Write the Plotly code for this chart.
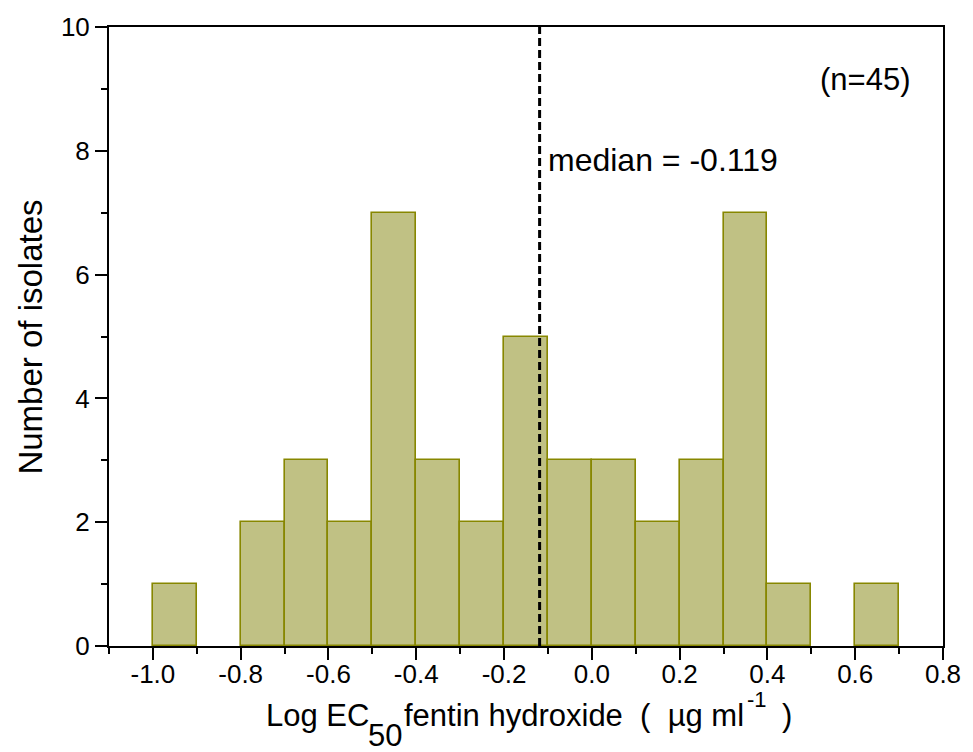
import plotly.graph_objects as go

# Histogram of log EC50 values, bins of width 0.1
bin_left = [-1.0, -0.9, -0.8, -0.7, -0.6, -0.5, -0.4, -0.3, -0.2, -0.1,
            0.0, 0.1, 0.2, 0.3, 0.4, 0.5, 0.6]
counts = [1, 0, 2, 3, 2, 7, 3, 2, 5, 3, 3, 2, 3, 7, 1, 0, 1]
bin_width = 0.1

median_value = -0.119
n_isolates = 45

x_ticks = [-1.0, -0.8, -0.6, -0.4, -0.2, 0.0, 0.2, 0.4, 0.6, 0.8]
y_ticks = [0, 2, 4, 6, 8, 10]

FONT = "Liberation Sans, Arial, sans-serif"
W, H = 973, 752
L, R, T, B = 109, 24, 27, 106

# empty bins are left undrawn so no outline shows along the baseline
filled = [(b + bin_width / 2, c) for b, c in zip(bin_left, counts) if c > 0]
centers = [f[0] for f in filled]
heights = [f[1] for f in filled]

fig = go.Figure()
fig.add_trace(go.Bar(
    x=centers, y=heights, width=bin_width,
    marker=dict(color="#C0C184", line=dict(color="#878700", width=1.6)),
    hoverinfo="x+y", showlegend=False,
))

# median reference line
fig.add_shape(type="line", x0=median_value, x1=median_value, y0=0, y1=10,
              xref="x", yref="y",
              line=dict(color="black", width=3, dash="8px,4px"))

fig.add_annotation(x=median_value, y=7.85, xref="x", yref="y",
                   text=f"median = {median_value:.3f}", showarrow=False,
                   xanchor="left", xshift=6, yanchor="middle",
                   font=dict(family=FONT, size=32, color="black"))
fig.add_annotation(x=0.73, y=9.16, xref="x", yref="y",
                   text=f"(n={n_isolates})", showarrow=False,
                   xanchor="right", yanchor="middle",
                   font=dict(family=FONT, size=31, color="black"))

pw = W - L - R
ph = H - T - B


def px(xpix):
    return (xpix - L) / pw


def py(ypix):
    return (H - B - ypix) / ph


# y axis title
fig.add_annotation(x=px(29), y=py(337), xref="paper", yref="paper",
                   text="Number of isolates", showarrow=False, textangle=-90,
                   xanchor="center", yanchor="middle",
                   font=dict(family=FONT, size=33, color="black"))

# x axis title, built from pieces so the subscript and superscript sit right
title_size = 31
pieces = [
    ("Log EC", 266, 715, title_size),
    ("50", 369, 735, title_size),
    ("fentin hydroxide  (  µg ml", 405, 715, title_size),
    ("-1", 751, 699, 22),
    (")", 786, 715, title_size),
]
for txt, xp_, yp_, sz in pieces:
    fig.add_annotation(x=px(xp_), y=py(yp_), xref="paper", yref="paper",
                       text=txt, showarrow=False, xanchor="left",
                       yanchor="middle", borderpad=0,
                       font=dict(family=FONT, size=sz, color="black"))

fig.update_xaxes(
    range=[-1.1, 0.8], tickvals=x_ticks,
    ticktext=[f"{v:.1f}" for v in x_ticks],
    ticks="outside", ticklen=12, tickwidth=1.5, tickcolor="black",
    ticklabelstandoff=-8,
    minor=dict(dtick=0.1, tick0=-1.1, ticks="outside", ticklen=6,
               tickwidth=1.5, tickcolor="black", showgrid=False),
    showline=True, linecolor="black", linewidth=2, mirror=True,
    showgrid=False, zeroline=False,
    tickfont=dict(family=FONT, size=26, color="black"),
)
fig.update_yaxes(
    range=[0, 10], tickvals=y_ticks,
    ticks="outside", ticklen=12, tickwidth=1.5, tickcolor="black",
    minor=dict(dtick=1, tick0=0, ticks="outside", ticklen=6,
               tickwidth=1.5, tickcolor="black", showgrid=False),
    showline=True, linecolor="black", linewidth=2, mirror=True,
    showgrid=False, zeroline=False,
    tickfont=dict(family=FONT, size=26, color="black"),
)

fig.update_layout(
    width=W, height=H,
    margin=dict(l=L, r=R, t=T, b=B, pad=0),
    paper_bgcolor="white", plot_bgcolor="white",
    bargap=0, showlegend=False,
    font=dict(family=FONT, color="black"),
)

fig.write_html("out.html", config={"displayModeBar": False})
